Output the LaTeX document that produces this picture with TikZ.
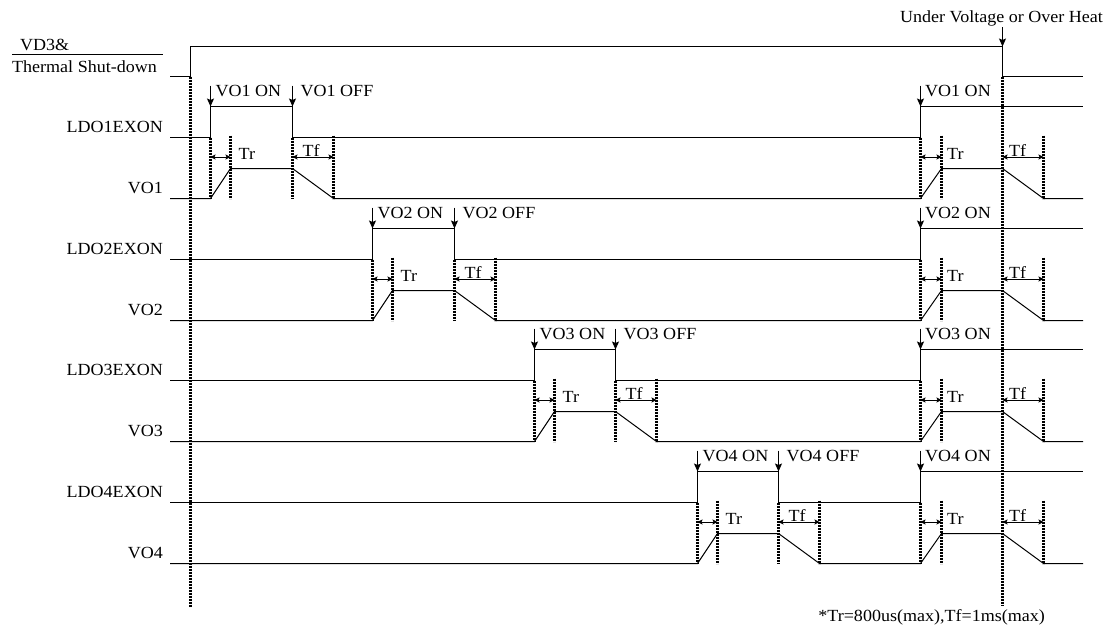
\documentclass[tikz,border=0pt]{standalone}
\usepackage{fontspec}
\setmainfont[FakeStretch=1.06]{Liberation Serif}
\usetikzlibrary{arrows.meta}
\begin{document}
\begin{tikzpicture}[x=1pt,y=-1pt,
  sig/.style={line width=1pt},
  guide/.style={line width=2.4pt, dash pattern=on 2pt off 1pt},
  evt/.style={line width=1pt,-{Stealth[length=8pt,width=7pt,inset=1.5pt]}},
  span/.style={line width=1pt,{Stealth[length=5pt,width=5pt,inset=1pt]}-{Stealth[length=5pt,width=5pt,inset=1pt]}},
  lbl/.style={font=\fontsize{17}{20}\selectfont, inner sep=0pt},
]
\useasboundingbox (0,0) rectangle (1112,632);

% top row: VD3 & Thermal Shut-down
\draw[sig] (170,76.5) -- (190.5,76.5) -- (190.5,46.5) -- (1002.5,46.5) -- (1002.5,76.5) -- (1083,76.5);
\draw[guide] (190.5,76.5) -- (190.5,607);
\draw[guide] (1002.5,76.5) -- (1002.5,605);
\node[lbl,anchor=base] (uv) at (1001.5,22) {Under Voltage or Over Heat};
\coordinate (uvtip) at (1002.5,46.5);
\draw[evt] (1002.5,27) -- (uvtip);
\node[lbl,anchor=base west] (vd3) at (20,50) {VD3\&};
\node[lbl,anchor=base west] (tsd) at (12,72) {Thermal Shut-down};
\draw[line width=0.8pt] (12,54.5) -- (163,54.5);

\foreach \n/\yl/\xon/\xoff in {1/137.5/210.5/292.5, 2/259.5/372.5/454.5, 3/380.5/534.5/615.5, 4/502.5/697.5/778.5} {
  \pgfmathsetmacro\yh{\yl-31}
  \pgfmathsetmacro\vh{\yl+31}
  \pgfmathsetmacro\vl{\yl+61}
  \pgfmathsetmacro\ya{\yl+19.5}
  \pgfmathsetmacro\xr{\xon+20}
  \pgfmathsetmacro\xf{\xoff+41}
  % labels
  \node[lbl,anchor=base east] (ldo\n) at (163,\yl-5.5) {LDO\n EXON};
  \node[lbl,anchor=base east] (vo\n) at (163,\vl-5) {VO\n};
  % LDO enable
  \draw[sig] (170,\yl) -- (\xon,\yl) -- (\xon,\yh) -- (\xoff,\yh) -- (\xoff,\yl)
     -- (920.5,\yl) -- (920.5,\yh) -- (1083,\yh);
  % VO output
  \draw[sig] (170,\vl) -- (\xon,\vl) -- (\xr,\vh) -- (\xoff,\vh) -- (\xf,\vl)
     -- (920.5,\vl) -- (941.5,\vh) -- (1002.5,\vh) -- (1043.5,\vl) -- (1083,\vl);
  % guides
  \draw[guide] (\xon,\yl) -- (\xon,\vl);
  \draw[guide] (\xr,\yl-2) -- (\xr,\vl);
  \draw[guide] (\xoff,\yl) -- (\xoff,\vl);
  \draw[guide] (\xf,\yl-2) -- (\xf,\vl);
  \draw[guide] (920.5,\yl) -- (920.5,\vl);
  \draw[guide] (941.5,\yl-2) -- (941.5,\vl);
  \draw[guide] (1043.5,\yl-2) -- (1043.5,\vl);
  % Tr / Tf spans
  \draw[span] (\xon,\ya) -- (\xr,\ya);
  \draw[span] (\xoff,\ya) -- (\xf,\ya);
  \draw[span] (920.5,\ya) -- (941.5,\ya);
  \draw[span] (1002.5,\ya) -- (1043.5,\ya);
  \node[lbl,anchor=base west] (tr\n) at (\xon+28,\yl+21.5) {Tr};
  \node[lbl,anchor=base west] (tf\n) at (\xoff+10,\yl+19) {Tf};
  \node[lbl,anchor=base west] (trr\n) at (947,\yl+21.5) {Tr};
  \node[lbl,anchor=base west] (tfr\n) at (1009,\yl+19) {Tf};
  % ON / OFF events
  \draw[evt] (\xon,\yh-21) -- (\xon,\yh);
  \draw[evt] (\xoff,\yh-21) -- (\xoff,\yh);
  \draw[evt] (920.5,\yh-21) -- (920.5,\yh);
  \node[lbl,anchor=base west] (on\n) at (\xon+5,\yh-10) {VO\n{} ON};
  \node[lbl,anchor=base west] (off\n) at (\xoff+8,\yh-10) {VO\n{} OFF};
  \node[lbl,anchor=base west] (onr\n) at (925,\yh-10) {VO\n{} ON};
}

\node[lbl,anchor=base east] (note) at (1045,621) {*Tr=800us(max),Tf=1ms(max)};
\end{tikzpicture}
\end{document}
